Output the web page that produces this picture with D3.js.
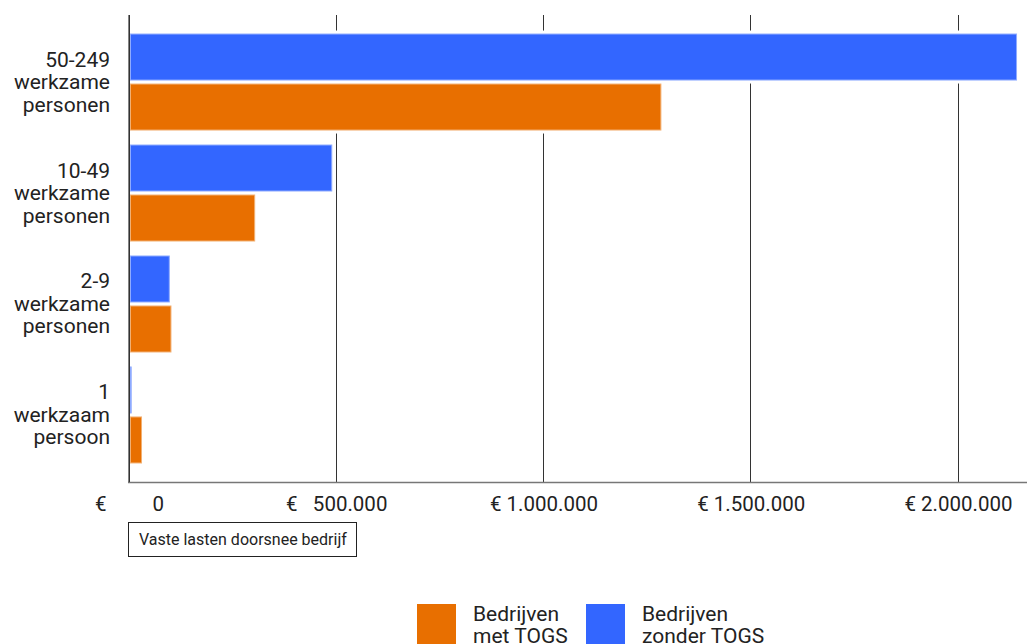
<!DOCTYPE html>
<html><head><meta charset="utf-8">
<script src="https://cdn.jsdelivr.net/npm/d3@7"></script>
<style>
html,body{margin:0;padding:0;background:#fff;}
svg{display:block;font-family:Roboto, "Noto Sans", sans-serif;}
</style></head>
<body>
<svg id="chart" width="1027" height="644"></svg>
<script>
// ---- data ----
const categories = [
  ["50-249", "werkzame", "personen"],
  ["10-49", "werkzame", "personen"],
  ["2-9", "werkzame", "personen"],
  ["1", "werkzaam", "persoon"]
];
const seriesNames = ["Bedrijven zonder TOGS", "Bedrijven met TOGS"];
const zonderTOGS = [2140000, 488000, 96000, 4000];
const metTOGS = [1282000, 302000, 100000, 29000];
const tickValues = [0, 500000, 1000000, 1500000, 2000000];
const tickLabels = ["€         0", "€   500.000", "€ 1.000.000", "€ 1.500.000", "€ 2.000.000"];
const legendItems = [["Bedrijven", "met TOGS"], ["Bedrijven", "zonder TOGS"]];
const axisTitle = "Vaste lasten doorsnee bedrijf";

const colors = {"Bedrijven zonder TOGS": "#3366ff", "Bedrijven met TOGS": "#e86f00"};
const legendColors = ["#e86f00", "#3366ff"];

const svg = d3.select("#chart");
const plotTop = 15, plotBottom = 482;
const x = d3.scaleLinear().domain([0, 2000000]).range([129.5, 958.5]);
const y = d3.scaleBand().domain(d3.range(categories.length)).range([plotTop, plotBottom])
  .paddingInner(0.126).paddingOuter(0.167);
const ySub = d3.scaleBand().domain(seriesNames).range([0, y.bandwidth()]).paddingInner(0.06);

const rows = categories.map((c, i) => ({i, values: [
  {s: seriesNames[0], v: zonderTOGS[i]},
  {s: seriesNames[1], v: metTOGS[i]}
]}));

// gridlines
svg.append("g").selectAll("line").data(tickValues).join("line")
  .attr("x1", d => Math.round(x(d)) - 0.5).attr("x2", d => Math.round(x(d)) - 0.5)
  .attr("y1", plotTop).attr("y2", plotBottom)
  .attr("stroke", "#333").attr("stroke-width", 1);

// baseline
svg.append("line").attr("x1", 128).attr("x2", 1027).attr("y1", plotBottom + 0.5).attr("y2", plotBottom + 0.5)
  .attr("stroke", "#777").attr("stroke-width", 1.5);

// bars
const g = svg.append("g").selectAll("g").data(rows).join("g")
  .attr("transform", d => `translate(0,${y(d.i)})`);
g.selectAll("rect.halo").data(d => d.values).join("rect").attr("class", "halo")
  .attr("x", x(0) + 0.5).attr("y", d => ySub(d.s) - 3)
  .attr("width", d => x(d.v) - x(0) + 3).attr("height", ySub.bandwidth() + 6)
  .attr("fill", "#fff");
g.selectAll("rect.bar").data(d => d.values).join("rect").attr("class", "bar")
  .attr("x", x(0) + 1).attr("y", d => ySub(d.s) + 0.5)
  .attr("width", d => Math.max(0.5, x(d.v) - x(0) - 1)).attr("height", ySub.bandwidth() - 1)
  .attr("fill", d => colors[d.s])
  .attr("stroke", d => d3.interpolateRgb(colors[d.s], "#fff")(0.45))
  .attr("stroke-width", 1);

// zero axis line on top
svg.append("line").attr("x1", 129).attr("x2", 129).attr("y1", plotTop).attr("y2", plotBottom)
  .attr("stroke", "#333").attr("stroke-width", 1.2);

// category labels
svg.append("g").selectAll("text").data(categories).join("text")
  .attr("text-anchor", "end").attr("font-size", 21).attr("fill", "#222")
  .each(function(d, i) {
    const cy = y(i) + y.bandwidth() / 2;
    d3.select(this).selectAll("tspan").data(d).join("tspan")
      .attr("x", 110).attr("y", (t, j) => cy + 7 + (j - 1) * 22.5).text(t => t);
  });

// tick labels
svg.append("g").selectAll("text").data(tickValues).join("text")
  .attr("x", d => x(d)).attr("y", 511).attr("text-anchor", "middle")
  .attr("font-size", 20.5).attr("fill", "#222")
  .attr("xml:space", "preserve").style("white-space", "pre")
  .text((d, i) => tickLabels[i]);

// axis title box
svg.append("rect").attr("x", 128.5).attr("y", 522.5).attr("width", 228).attr("height", 34)
  .attr("fill", "#fff").attr("stroke", "#222").attr("stroke-width", 1);
svg.append("text").attr("x", 139).attr("y", 544.5).attr("font-size", 16).attr("fill", "#222")
  .text(axisTitle);

// legend
const lg = svg.append("g").selectAll("g").data(legendItems).join("g")
  .attr("transform", (d, i) => `translate(${[417, 586][i]},604)`);
lg.append("rect").attr("width", 39).attr("height", 40).attr("fill", (d, i) => legendColors[i]);
lg.append("text").attr("font-size", 21).attr("fill", "#222")
  .selectAll("tspan").data(d => d).join("tspan")
  .attr("x", 56).attr("y", (t, j) => 17 + j * 22).text(t => t);
</script>
</body></html>
